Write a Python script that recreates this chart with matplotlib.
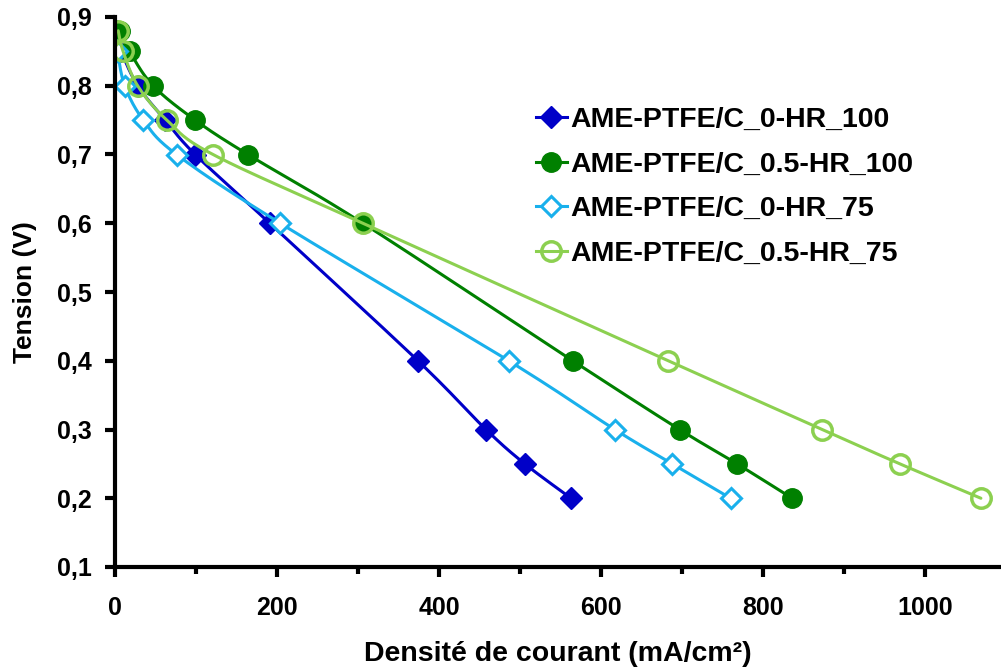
import matplotlib
matplotlib.use("Agg")
import numpy as np
import matplotlib.pyplot as plt
from matplotlib.lines import Line2D
from matplotlib.ticker import MultipleLocator, FuncFormatter

# Data
labels = ["AME-PTFE/C_0-HR_100", "AME-PTFE/C_0.5-HR_100",
          "AME-PTFE/C_0-HR_75", "AME-PTFE/C_0.5-HR_75"]

x_0_100 = [2, 8, 28, 62, 99, 191, 374, 458, 506, 563]
y_0_100 = [0.88, 0.85, 0.80, 0.75, 0.70, 0.60, 0.40, 0.30, 0.25, 0.20]

x_05_100 = [6, 18, 47, 99, 164, 306, 565, 697, 768, 836]
y_05_100 = [0.88, 0.85, 0.80, 0.75, 0.70, 0.60, 0.40, 0.30, 0.25, 0.20]

x_0_75 = [3, 12, 35, 76, 204, 486, 617, 688, 760]
y_0_75 = [0.85, 0.80, 0.75, 0.70, 0.60, 0.40, 0.30, 0.25, 0.20]

x_05_75 = [4, 10, 28, 64, 121, 306, 683, 873, 969, 1069]
y_05_75 = [0.88, 0.85, 0.80, 0.75, 0.70, 0.60, 0.40, 0.30, 0.25, 0.20]

xlabel = "Densité de courant (mA/cm²)"
ylabel = "Tension (V)"

plt.rcParams['font.family'] = ["Liberation Sans", "DejaVu Sans"]

fig = plt.figure(figsize=(10.01, 6.70), dpi=100)
ax = fig.add_axes([115/1001, 103/670, 886/1001, 550/670])
ax.set_xlim(0, 886/0.81)
ax.set_ylim(0.1, 0.9)


def smooth(xs, ys, n=20):
    """Excel-like smoothed line (Catmull-Rom Bezier) computed in display space."""
    pts = ax.transData.transform(np.column_stack([xs, ys]))
    out = [pts[0]]
    m = len(pts)
    for i in range(m - 1):
        p0 = pts[i - 1] if i > 0 else pts[i]
        p1 = pts[i]
        p2 = pts[i + 1]
        p3 = pts[i + 2] if i + 2 < m else pts[i + 1]
        c1 = p1 + (p2 - p0) / 6.0
        c2 = p2 - (p3 - p1) / 6.0
        t = np.linspace(0, 1, n)[1:, None]
        seg = ((1 - t) ** 3) * p1 + 3 * ((1 - t) ** 2) * t * c1 + 3 * (1 - t) * t ** 2 * c2 + t ** 3 * p2
        out.extend(seg)
    out = ax.transData.inverted().transform(np.array(out))
    return out[:, 0], out[:, 1]


series = [
    (x_0_100, y_0_100, dict(color="#0000C8", marker="D", ms=11, mfc="#0000C8", mec="#0000C8", mew=1), 3),
    (x_05_100, y_05_100, dict(color="#008000", marker="o", ms=14, mfc="#008000", mec="#008000", mew=1), 3),
    (x_0_75, y_0_75, dict(color="#19B0EC", marker="D", ms=10, mfc="white", mec="#19B0EC", mew=2.2), 4),
    (x_05_75, y_05_75, dict(color="#8CD050", marker="o", ms=14, mfc="none", mec="#8CD050", mew=2.5), 4),
]

handles = []
for (xs, ys, st, z), lab in zip(series, labels):
    sx, sy = smooth(xs, ys)
    ax.plot(sx, sy, color=st["color"], lw=2.2, zorder=z, solid_capstyle="round")
    ax.plot(xs, ys, ls="none", zorder=z, **{k: v for k, v in st.items() if k != "color"})
    handles.append(Line2D([], [], color=st["color"], lw=2.2, **{k: v for k, v in st.items() if k != "color"}))

ax.xaxis.set_major_locator(MultipleLocator(200))
ax.xaxis.set_minor_locator(MultipleLocator(100))
ax.yaxis.set_major_locator(MultipleLocator(0.1))
ax.yaxis.set_major_formatter(FuncFormatter(lambda v, p: f"{v:.1f}".replace(".", ",")))

for s in ["top", "right"]:
    ax.spines[s].set_visible(False)
for s in ["left", "bottom"]:
    ax.spines[s].set_linewidth(3)
    ax.spines[s].set_zorder(5)

ax.tick_params(axis="both", which="major", direction="out", length=7, width=3,
               labelsize=18, pad=10)
ax.tick_params(axis="x", which="major", pad=14)
ax.tick_params(axis="x", which="minor", direction="out", length=5, width=3)
for lab in ax.get_xticklabels() + ax.get_yticklabels():
    lab.set_fontweight("bold")

ax.set_xlabel(xlabel, fontsize=20.5, fontweight="bold", labelpad=15)
ax.set_ylabel(ylabel, fontsize=19, fontweight="bold", labelpad=14)

leg = ax.legend(handles=handles, labels=labels, loc="upper left",
                bbox_to_anchor=(0.462, 0.857), frameon=False,
                prop={"size": 20.5, "weight": "bold"}, handlelength=1.1,
                handletextpad=0.1, labelspacing=0.65, borderaxespad=0)

fig.savefig("out.png", dpi=100)
